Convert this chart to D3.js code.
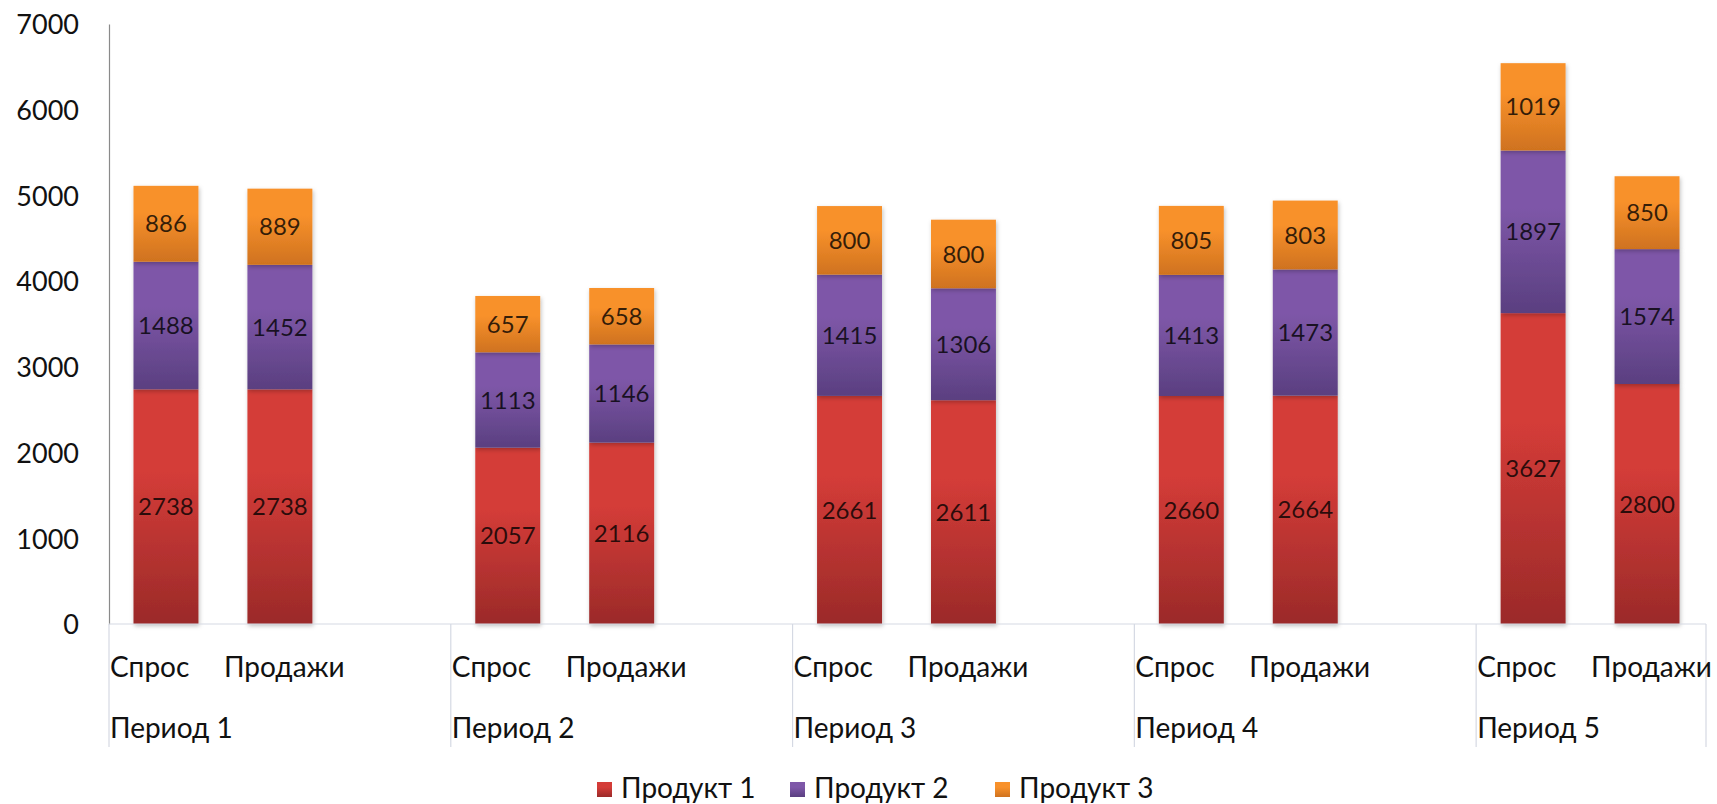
<!DOCTYPE html>
<html>
<head>
	<meta http-equiv="Content-Type" content="text/html;charset=utf-8">
	<title>Спрос и продажи</title>
	<script src="https://d3js.org/d3.v7.min.js"></script>
	<style type="text/css">
		body { margin: 0; background: #fff; }
		text { font-family: Lato, "Open Sans", sans-serif; fill: #111; }
		.ylab text { font-size: 27px; }
		.cat { font-size: 28px; }
		.val { font-size: 24px; fill: #000; fill-opacity: 0.78; }
		.leg { font-size: 28px; }
	</style>
</head>
<body>
	<svg width="1717" height="804"></svg>

	<script type="text/javascript">
		// data
		var periods = ["Период 1", "Период 2", "Период 3", "Период 4", "Период 5"];
		var kinds = ["Спрос", "Продажи"];
		var products = ["Продукт 1", "Продукт 2", "Продукт 3"];
		// [period][kind] -> value
		var product1 = [[2738, 2738], [2057, 2116], [2661, 2611], [2660, 2664], [3627, 2800]];
		var product2 = [[1488, 1452], [1113, 1146], [1415, 1306], [1413, 1473], [1897, 1574]];
		var product3 = [[886, 889], [657, 658], [800, 800], [805, 803], [1019, 850]];
		var yTicks = [0, 1000, 2000, 3000, 4000, 5000, 6000, 7000];

		var colors = [
			{ top: "#d43c38", bottom: "#9b2a29" },
			{ top: "#7e57a8", bottom: "#5a3f80" },
			{ top: "#f8912b", bottom: "#cf721f" }
		];

		var svg = d3.select("svg");
		var left = 109, right = 1704, plotTop = 24, base = 624;

		// slots: each period has Спрос, Продажи and an empty slot (last period has none)
		var slots = [];
		periods.forEach(function (p, i) {
			kinds.forEach(function (k) { slots.push(p + "|" + k); });
			if (i < periods.length - 1) slots.push(p + "|gap");
		});

		var x = d3.scaleBand().domain(slots).range([left, right])
			.paddingInner(0.43).paddingOuter(0.215);
		var step = x.step();
		var y = d3.scaleLinear().domain([0, 7000]).range([base, plotTop]);

		// gradients
		var defs = svg.append("defs");
		colors.forEach(function (c, i) {
			var g = defs.append("linearGradient").attr("id", "g" + i)
				.attr("x1", 0).attr("y1", 0).attr("x2", 0).attr("y2", 1);
			g.append("stop").attr("offset", "0%").attr("stop-color", c.top);
			g.append("stop").attr("offset", "35%").attr("stop-color", c.top);
			g.append("stop").attr("offset", "100%").attr("stop-color", c.bottom);
		});
		var f = defs.append("filter").attr("id", "sh")
			.attr("x", "-10%").attr("y", "-10%").attr("width", "130%").attr("height", "130%");
		f.append("feDropShadow").attr("dx", 1).attr("dy", 2).attr("stdDeviation", 2)
			.attr("flood-color", "#000").attr("flood-opacity", 0.25);

		// y axis
		var yAxis = svg.append("g").attr("class", "ylab")
			.attr("transform", "translate(" + left + ",0)")
			.call(d3.axisLeft(y).tickValues(yTicks).tickSize(0).tickPadding(30).tickFormat(d3.format("d")));
		yAxis.select(".domain").attr("stroke", "#8a8a8a").attr("stroke-width", 1.2);
		yAxis.selectAll("text").attr("dy", "0.36em");

		// stacked rows
		var rows = [];
		periods.forEach(function (p, i) {
			kinds.forEach(function (k, j) {
				rows.push({ key: p + "|" + k, v: [product1[i][j], product2[i][j], product3[i][j]] });
			});
		});
		var stack = d3.stack().keys([0, 1, 2]).value(function (d, k) { return d.v[k]; });
		var series = stack(rows);

		var bars = svg.append("g");
		series.forEach(function (s, si) {
			bars.selectAll(null).data(s).enter().append("rect")
				.attr("x", function (d) { return x(d.data.key); })
				.attr("width", x.bandwidth())
				.attr("y", function (d) { return y(d[1]); })
				.attr("height", function (d) { return y(d[0]) - y(d[1]); })
				.attr("fill", "url(#g" + si + ")")
				.attr("filter", "url(#sh)");
		});
		series.forEach(function (s, si) {
			bars.selectAll(null).data(s).enter().append("text")
				.attr("class", "val")
				.attr("x", function (d) { return x(d.data.key) + x.bandwidth() / 2; })
				.attr("y", function (d) { return (y(d[0]) + y(d[1])) / 2; })
				.attr("dy", "0.36em")
				.attr("text-anchor", "middle")
				.text(function (d) { return d.data.v[si]; });
		});

		// x axis base line and separators
		var grid = "#d5d9e3";
		svg.append("line").attr("x1", left).attr("x2", right + 2)
			.attr("y1", base).attr("y2", base).attr("stroke", grid).attr("stroke-width", 1.2);
		var pStarts = periods.map(function (p) { return x(p + "|Спрос") - x.paddingOuter() * step; });
		[left].concat(pStarts.slice(1), [right + 2]).forEach(function (px) {
			svg.append("line").attr("x1", px).attr("x2", px)
				.attr("y1", base).attr("y2", 747).attr("stroke", grid).attr("stroke-width", 1.2);
		});

		// category labels
		rows.forEach(function (r) {
			var k = r.key.split("|")[1];
			svg.append("text").attr("class", "cat")
				.attr("x", x(r.key) - x.paddingOuter() * step + 1)
				.attr("y", 677)
				.text(k);
		});
		periods.forEach(function (p, i) {
			svg.append("text").attr("class", "cat")
				.attr("x", pStarts[i] + 1)
				.attr("y", 738)
				.text(p);
		});

		// legend
		var legX = [597, 790, 995];
		products.forEach(function (p, i) {
			svg.append("rect").attr("x", legX[i]).attr("y", 782).attr("width", 15).attr("height", 15)
				.attr("fill", "url(#g" + i + ")");
			svg.append("text").attr("class", "leg").attr("x", legX[i] + 24).attr("y", 798).text(p);
		});
	</script>
</body>
</html>
